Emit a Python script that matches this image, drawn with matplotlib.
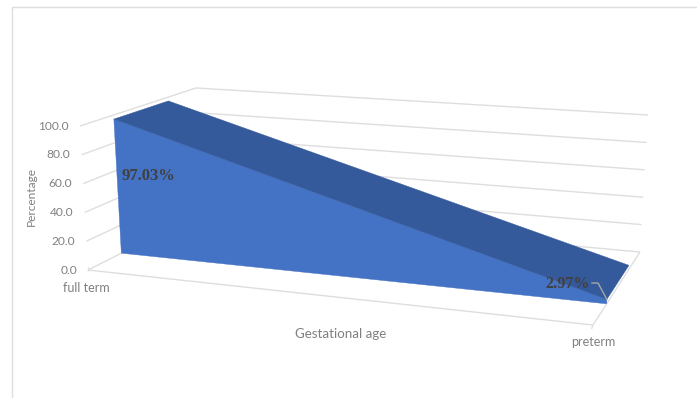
import matplotlib
matplotlib.use('Agg')
import matplotlib.pyplot as plt
from matplotlib.patches import Polygon

categories = ['full term', 'preterm']
percentages = [97.03, 2.97]
y_ticks = [0, 20, 40, 60, 80, 100]
x_title = 'Gestational age'
y_title = 'Percentage'

GRID = '#dedede'
TEXT = '#808080'
FRONT = '#4472c4'
TOP = '#345a9c'

# box corners of the 3d chart on the canvas: (category, depth, value)
corners = {
    (0, 0, 0): (88, 270), (1, 0, 0): (593, 325),
    (0, 1, 0): (203, 212), (1, 1, 0): (640, 252),
    (0, 0, 1): (80, 126), (1, 0, 1): (600, 170),
    (0, 1, 1): (196, 88), (1, 1, 1): (648, 115),
}
# depth range the area series takes up inside the box
d_front, d_back = 0.29, 0.76


def project(c, d, v):
    v = v / 100
    px, py = 0, 0
    for (i, j, k), (x, y) in corners.items():
        w = (c if i else 1 - c) * (d if j else 1 - d) * (v if k else 1 - v)
        px += w * x
        py += w * y
    return px, py


def line(ax, p, q, color=GRID, lw=1.0):
    ax.plot([p[0], q[0]], [p[1], q[1]], color=color, lw=lw, solid_capstyle='butt', zorder=1)


fig = plt.figure(figsize=(6.97, 3.98), dpi=100)
ax = fig.add_axes([0, 0, 1, 1])
ax.set_xlim(0, 697)
ax.set_ylim(398, 0)
ax.axis('off')

# outer chart border, only top and left show
ax.plot([12, 12, 697], [398, 6.5, 6.5], color=GRID, lw=1.0, zorder=1)

# walls
for v in y_ticks:
    line(ax, project(0, 0, v), project(0, 1, v))
    line(ax, project(0, 1, v), project(1, 1, v))
    x, y = project(0, 0, v)
    ax.text(x - 11, y, f'{v:.1f}', ha='right', va='center', family='Lato', fontsize=8.6, color=TEXT)

# floor
line(ax, project(0, 0, 0), project(1, 0, 0))
line(ax, project(1, 0, 0), project(1, 1, 0))
x0, y0 = project(0, 0, 0)
line(ax, (x0, y0 + 1), (x0, y0 - 3))
x1, y1 = project(1, 0, 0)
line(ax, (x1, y1), (x1 - 1.5, y1 + 4))

# area series
front_poly = [project(0, d_front, 0), project(1, d_front, 0),
              project(1, d_front, percentages[1]), project(0, d_front, percentages[0])]
top_poly = [project(0, d_front, percentages[0]), project(0, d_back, percentages[0]),
            project(1, d_back, percentages[1]), project(1, d_front, percentages[1])]
ax.add_patch(Polygon(front_poly, closed=True, fc=FRONT, ec=FRONT, lw=0.3, zorder=2))
ax.add_patch(Polygon(top_poly, closed=True, fc=TOP, ec=TOP, lw=0.3, zorder=3))

# data labels
ax.text(121, 176, f'{percentages[0]:.2f}%', ha='left', va='center', family='Liberation Serif',
        weight='bold', fontsize=11.9, color='#404040', zorder=5)
ax.text(545, 283.5, f'{percentages[1]:.2f}%', ha='left', va='center', family='Liberation Serif',
        weight='bold', fontsize=11.6, color='#404040', zorder=5)
tip = project(1, d_front, percentages[1])
ax.plot([592, 598, tip[0]], [283, 283, tip[1]], color='#a6a6a6', lw=1.0, zorder=4)

# axis labels
ax.text(86.5, 288, categories[0], ha='center', va='center', family='Lato', fontsize=9, color=TEXT)
ax.text(593.5, 342, categories[1], ha='center', va='center', family='Lato', fontsize=9, color=TEXT)
ax.text(340.5, 334, x_title, ha='center', va='center', family='Lato', fontsize=9.6, color=TEXT)
ax.text(31, 197, y_title, ha='center', va='center', rotation=90, family='Lato', fontsize=8.6, color=TEXT)

fig.savefig('out.png', dpi=100)
